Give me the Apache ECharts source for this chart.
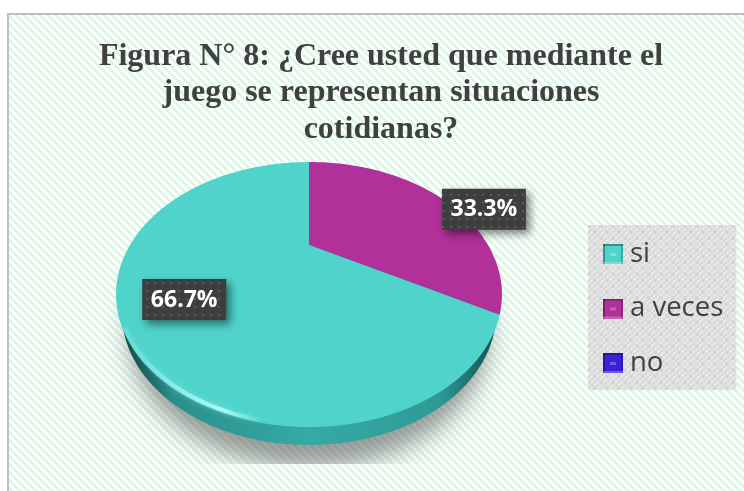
<!DOCTYPE html>
<html>
<head>
<meta charset="utf-8">
<title>Figura 8</title>
<script src="https://cdn.jsdelivr.net/npm/echarts@6/dist/echarts.min.js"></script>
<style>
  html, body { margin: 0; padding: 0; background: #fff; }
  #chart { width: 744px; height: 491px; }
</style>
</head>
<body>
<div id="chart"></div>
<script>
const categories = ["si", "a veces", "no"];
const shares = [66.7, 33.3, 0];
const sliceColors = ["#4FD3CB", "#B1309A", "#3A22D8"];

// the pie sits in perspective: a circle through a projective map
const pieX = 309, pieY = 245, pieR = 179, tilt = 0.3736, squash = 22.5;
const depth = 18;
const labelShift = [[0, 9], [79, 0], [0, 0]];

function project(deg, k) {
  const t = deg * Math.PI / 180;
  const u = Math.sin(t) * k, v = Math.cos(t) * k;
  const d = 1 + tilt * v;
  return [pieX + pieR * u / d, (pieY - squash * v) / d];
}

function arcPoints(from, to, k) {
  const pts = [];
  const n = Math.max(2, Math.ceil(Math.abs(to - from) / 2));
  for (let i = 0; i <= n; i++) {
    pts.push(project(from + (to - from) * i / n, k || 1));
  }
  return pts;
}

function tile(size, paint) {
  const c = document.createElement("canvas");
  c.width = c.height = size;
  paint(c.getContext("2d"));
  return c;
}

const stripes = tile(8, function (g) {
  g.fillStyle = "#fff";
  g.fillRect(0, 0, 8, 8);
  g.fillStyle = "#DDF7E7";
  for (let y = 0; y < 4; y++) {
    for (let x = 0; x < 4; x++) {
      if ((x - y + 4) % 4 < 2) g.fillRect(x * 2, y * 2, 2, 2);
    }
  }
});

const checks = tile(12, function (g) {
  g.fillStyle = "#E6E6E6";
  g.fillRect(0, 0, 12, 12);
  g.fillStyle = "#D6D6D6";
  for (let y = 0; y < 6; y++) {
    for (let x = 0; x < 6; x++) {
      if ((x + y) % 3 === 0 || (x - y + 6) % 6 === 0) g.fillRect(x * 2, y * 2, 2, 2);
    }
  }
});

const dots = tile(8, function (g) {
  g.fillStyle = "#3E3E3E";
  g.fillRect(0, 0, 8, 8);
  g.fillStyle = "#5A5A5A";
  g.fillRect(2, 2, 2, 2);
});

function bevelIcon(color) {
  const c = tile(20, function (g) {
    g.fillStyle = color;
    g.fillRect(0, 0, 20, 20);
    g.fillStyle = "rgba(0,0,0,0.3)";
    g.fillRect(0, 0, 2, 20);
    g.fillRect(0, 0, 20, 2);
    g.fillStyle = "rgba(0,0,0,0.2)";
    g.fillRect(18, 0, 2, 20);
    g.fillStyle = "rgba(255,255,255,0.25)";
    g.fillRect(0, 18, 20, 2);
    g.fillRect(7, 9, 6, 3);
  });
  return "image://" + c.toDataURL();
}

function sliceRange(i) {
  const total = shares.reduce((a, b) => a + b, 0);
  // a veces starts at the top, si follows it round
  const order = [1, 0, 2];
  let start = 0;
  for (const j of order) {
    const sweep = shares[j] / total * 360;
    if (j === i) return [start, start + sweep];
    start += sweep;
  }
}

function renderSlice(params, api) {
  const i = params.seriesIndex - 1;
  const range = sliceRange(i);
  if (range[1] - range[0] <= 0) return { type: "group", children: [] };
  const mid = (range[0] + range[1]) / 2;
  const pos = project(mid, 0.7);
  const cx = pos[0] + labelShift[i][0], cy = pos[1] + labelShift[i][1];
  return {
    type: "group",
    children: [
      {
        type: "polygon",
        z2: 1,
        shape: { points: [[pieX, pieY]].concat(arcPoints(range[0], range[1])) },
        style: { fill: sliceColors[i] }
      },
      {
        type: "rect",
        z2: 10,
        shape: { x: cx - 42, y: cy - 21, width: 84, height: 41 },
        style: {
          fill: { image: dots, repeat: "repeat" },
          shadowBlur: 9,
          shadowOffsetX: 4,
          shadowOffsetY: 4,
          shadowColor: "rgba(0,0,0,0.5)"
        }
      },
      {
        type: "text",
        z2: 11,
        x: cx,
        y: cy,
        style: {
          text: api.value(0).toFixed(1) + "%",
          fill: "#fff",
          font: "bold 23px 'Open Sans'",
          align: "center",
          verticalAlign: "middle"
        }
      }
    ]
  };
}

function renderBase() {
  const outline = arcPoints(0, 360);
  const shifted = (sx, dy) => outline.map(p => [pieX + (p[0] - pieX) * sx, p[1] + dy]);
  return {
    type: "group",
    children: [
      {
        // only the blur shows: the shape itself is parked off the canvas
        type: "polygon",
        shape: { points: shifted(0.93, 40).map(p => [p[0] - 1000, p[1]]) },
        clipPath: { type: "rect", shape: { x: -2000, y: 0, width: 4000, height: 464 } },
        style: {
          fill: "#000",
          shadowBlur: 24,
          shadowOffsetX: 1000,
          shadowColor: "rgba(60,60,60,0.5)"
        }
      },
      {
        type: "polygon",
        z2: 1,
        shape: { points: shifted(0.97, depth) },
        style: {
          fill: {
            type: "linear", x: 0, y: 0, x2: 1, y2: 0,
            colorStops: [
              { offset: 0, color: "#0E3F3E" },
              { offset: 0.14, color: "#2A8F8B" },
              { offset: 0.5, color: "#36AAA5" },
              { offset: 0.85, color: "#2F9A95" },
              { offset: 1, color: "#12504E" }
            ]
          }
        }
      }
    ]
  };
}

function renderRim() {
  return {
    type: "polyline",
    shape: { points: arcPoints(235, 190, 0.99) },
    style: {
      fill: null,
      lineWidth: 4,
      shadowBlur: 6,
      shadowColor: "rgba(150,245,240,0.7)",
      stroke: {
        type: "linear", x: 0, y: 0, x2: 1, y2: 0,
        colorStops: [
          { offset: 0, color: "rgba(150,240,235,0.2)" },
          { offset: 0.35, color: "rgba(165,248,243,0.6)" },
          { offset: 0.7, color: "rgba(195,255,250,0.8)" },
          { offset: 1, color: "rgba(190,255,250,0)" }
        ]
      }
    }
  };
}

const chart = echarts.init(document.getElementById("chart"), null, { renderer: "canvas" });
chart.setOption({
  animation: false,
  backgroundColor: "#fff",
  title: {
    text: "Figura N° 8: ¿Cree usted que mediante el\njuego se representan situaciones\ncotidianas?",
    left: 376,
    top: 33,
    textAlign: "center",
    textStyle: {
      fontFamily: "Liberation Serif",
      fontWeight: "bold",
      fontSize: 32,
      lineHeight: 36.6,
      color: "#404040"
    }
  },
  legend: {
    orient: "vertical",
    left: 588,
    top: 225,
    padding: [15, 13, 13, 15],
    itemWidth: 20,
    itemHeight: 20,
    itemGap: 26.5,
    backgroundColor: { image: checks, repeat: "repeat" },
    selectedMode: false,
    textStyle: { fontFamily: "Open Sans", fontSize: 27.5, color: "#404040", padding: [3, 0, 0, 2] },
    data: categories.map((name, i) => ({ name: name, icon: bevelIcon(sliceColors[i]) }))
  },
  graphic: [
    {
      type: "rect",
      z: -1,
      silent: true,
      shape: { x: 8, y: 14, width: 760, height: 500 },
      style: { fill: { image: stripes, repeat: "repeat" }, stroke: "#BFBFBF", lineWidth: 2 }
    }
  ],
  series: [
    { type: "custom", name: "base", coordinateSystem: "none", silent: true, z: 1, data: [0], renderItem: renderBase }
  ].concat(categories.map((name, i) => ({
    type: "custom",
    name: name,
    coordinateSystem: "none",
    silent: true,
    z: i === 0 ? 3 : 2,
    itemStyle: { color: sliceColors[i] },
    encode: { value: 0 },
    data: [shares[i]],
    renderItem: renderSlice
  }))).concat([
    { type: "custom", name: "rim", coordinateSystem: "none", silent: true, z: 4, data: [0], renderItem: renderRim }
  ])
});
</script>
</body>
</html>
